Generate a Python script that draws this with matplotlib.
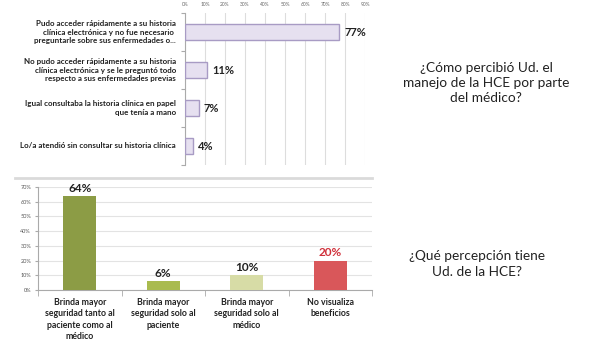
import matplotlib.pyplot as plt
import numpy as np

plt.rcParams['font.family'] = ['Lato', 'DejaVu Sans']

# top chart data
top_labels = [
    "Pudo acceder rápidamente a su historia\nclínica electrónica y no fue necesario \npreguntarle sobre sus enfermedades o...",
    "No pudo acceder rápidamente a su historia\nclínica electrónica y se le preguntó todo\nrespecto a sus enfermedades previas",
    "Igual consultaba la historia clínica en papel\nque tenía a mano",
    "Lo/a atendió sin consultar su historia clínica",
]
top_values = [0.77, 0.11, 0.07, 0.04]
top_ticks = [0, 0.1, 0.2, 0.3, 0.4, 0.5, 0.6, 0.7, 0.8, 0.9]

# bottom chart data
bot_labels = [
    "Brinda mayor\nseguridad tanto al\npaciente como al\nmédico",
    "Brinda mayor\nseguridad solo al\npaciente",
    "Brinda mayor\nseguridad solo al\nmédico",
    "No visualiza\nbeneficios",
]
bot_values = [0.64, 0.06, 0.10, 0.20]
bot_colors = ['#8c9c45', '#a9bb4f', '#d7dca6', '#d9575a']
bot_label_colors = ['#222222', '#222222', '#222222', '#d0303a']
bot_ticks = [0, 0.1, 0.2, 0.3, 0.4, 0.5, 0.6, 0.7]

W, H = 600, 345
fig = plt.figure(figsize=(6, 3.45), dpi=100)

def px_axes(x0, y0, x1, y1):
    return fig.add_axes([x0 / W, 1 - y1 / H, (x1 - x0) / W, (y1 - y0) / H])

# ---- top chart
ax1 = px_axes(185, 13, 365, 165)
y = np.arange(len(top_values))
ax1.barh(y, top_values, height=0.4, color='#e6e0f0', edgecolor='#a89bc4', linewidth=1.0, zorder=3)
ax1.set_xlim(0, 0.9)
ax1.set_ylim(len(top_values) - 0.5, -0.5)
ax1.set_xticks(top_ticks)
ax1.set_xticklabels([f"{int(round(t * 100))}%" for t in top_ticks], fontsize=3.5, color='#666666')
ax1.xaxis.tick_top()
ax1.tick_params(axis='x', length=0, pad=4)
ax1.set_yticks(np.arange(-0.5, len(top_values), 1))
ax1.set_yticklabels([])
ax1.tick_params(axis='y', length=3, color='#aaaaaa', direction='out')
ax1.grid(axis='x', color='#dddddd', linewidth=0.8, zorder=0)
for s in ['top', 'right', 'bottom']:
    ax1.spines[s].set_visible(False)
ax1.spines['left'].set_color('#aaaaaa')
for i, v in enumerate(top_values):
    ax1.text(v + 0.025, i, f"{int(round(v * 100))}%", va='center', ha='left',
             fontsize=8, fontweight='bold', color='#222222', clip_on=False)
    ax1.text(-0.045, i, top_labels[i], va='center', ha='right', fontsize=5.8,
             fontweight='bold', color='#222222', linespacing=1.25)

# ---- bottom chart
fig.add_artist(plt.Line2D([15 / W, 372 / W], [1 - 178 / H, 1 - 178 / H],
                          color='#dadada', linewidth=2))
ax2 = px_axes(38, 187, 372, 290)
x = np.arange(len(bot_values))
ax2.bar(x, bot_values, width=0.4, color=bot_colors, zorder=3)
ax2.set_xlim(-0.5, len(bot_values) - 0.5)
ax2.set_ylim(0, 0.7)
ax2.set_yticks(bot_ticks)
ax2.set_yticklabels([f"{int(round(t * 100))}%" for t in bot_ticks], fontsize=4, color='#555555')
ax2.tick_params(axis='y', length=2, color='#aaaaaa', pad=3)
ax2.grid(axis='y', color='#e3e3e3', linewidth=0.8, zorder=0)
ax2.set_xticks(x)
ax2.set_xticklabels(bot_labels, fontsize=6.3, fontweight='bold', color='#222222', linespacing=1.3)
ax2.tick_params(axis='x', length=0, pad=6)
ax2.set_xticks(np.arange(-0.5, len(bot_values), 1), minor=True)
ax2.tick_params(axis='x', which='minor', length=4, color='#aaaaaa')
for s in ['top', 'right']:
    ax2.spines[s].set_visible(False)
ax2.spines['left'].set_color('#aaaaaa')
ax2.spines['bottom'].set_color('#aaaaaa')
for i, v in enumerate(bot_values):
    ax2.text(i, v + 0.015, f"{int(round(v * 100))}%", ha='center', va='bottom',
             fontsize=8.5, fontweight='bold', color=bot_label_colors[i])

# ---- side questions
fig.text(486 / W, 1 - 83 / H, "¿Cómo percibió Ud. el\nmanejo de la HCE por parte\ndel médico?",
         ha='center', va='center', fontsize=9.8, color='#222222', linespacing=1.35)
fig.text(477 / W, 1 - 264 / H, "¿Qué percepción tiene\nUd. de la HCE?",
         ha='center', va='center', fontsize=9.8, color='#222222', linespacing=1.35)

fig.savefig('out.png', dpi=100)
